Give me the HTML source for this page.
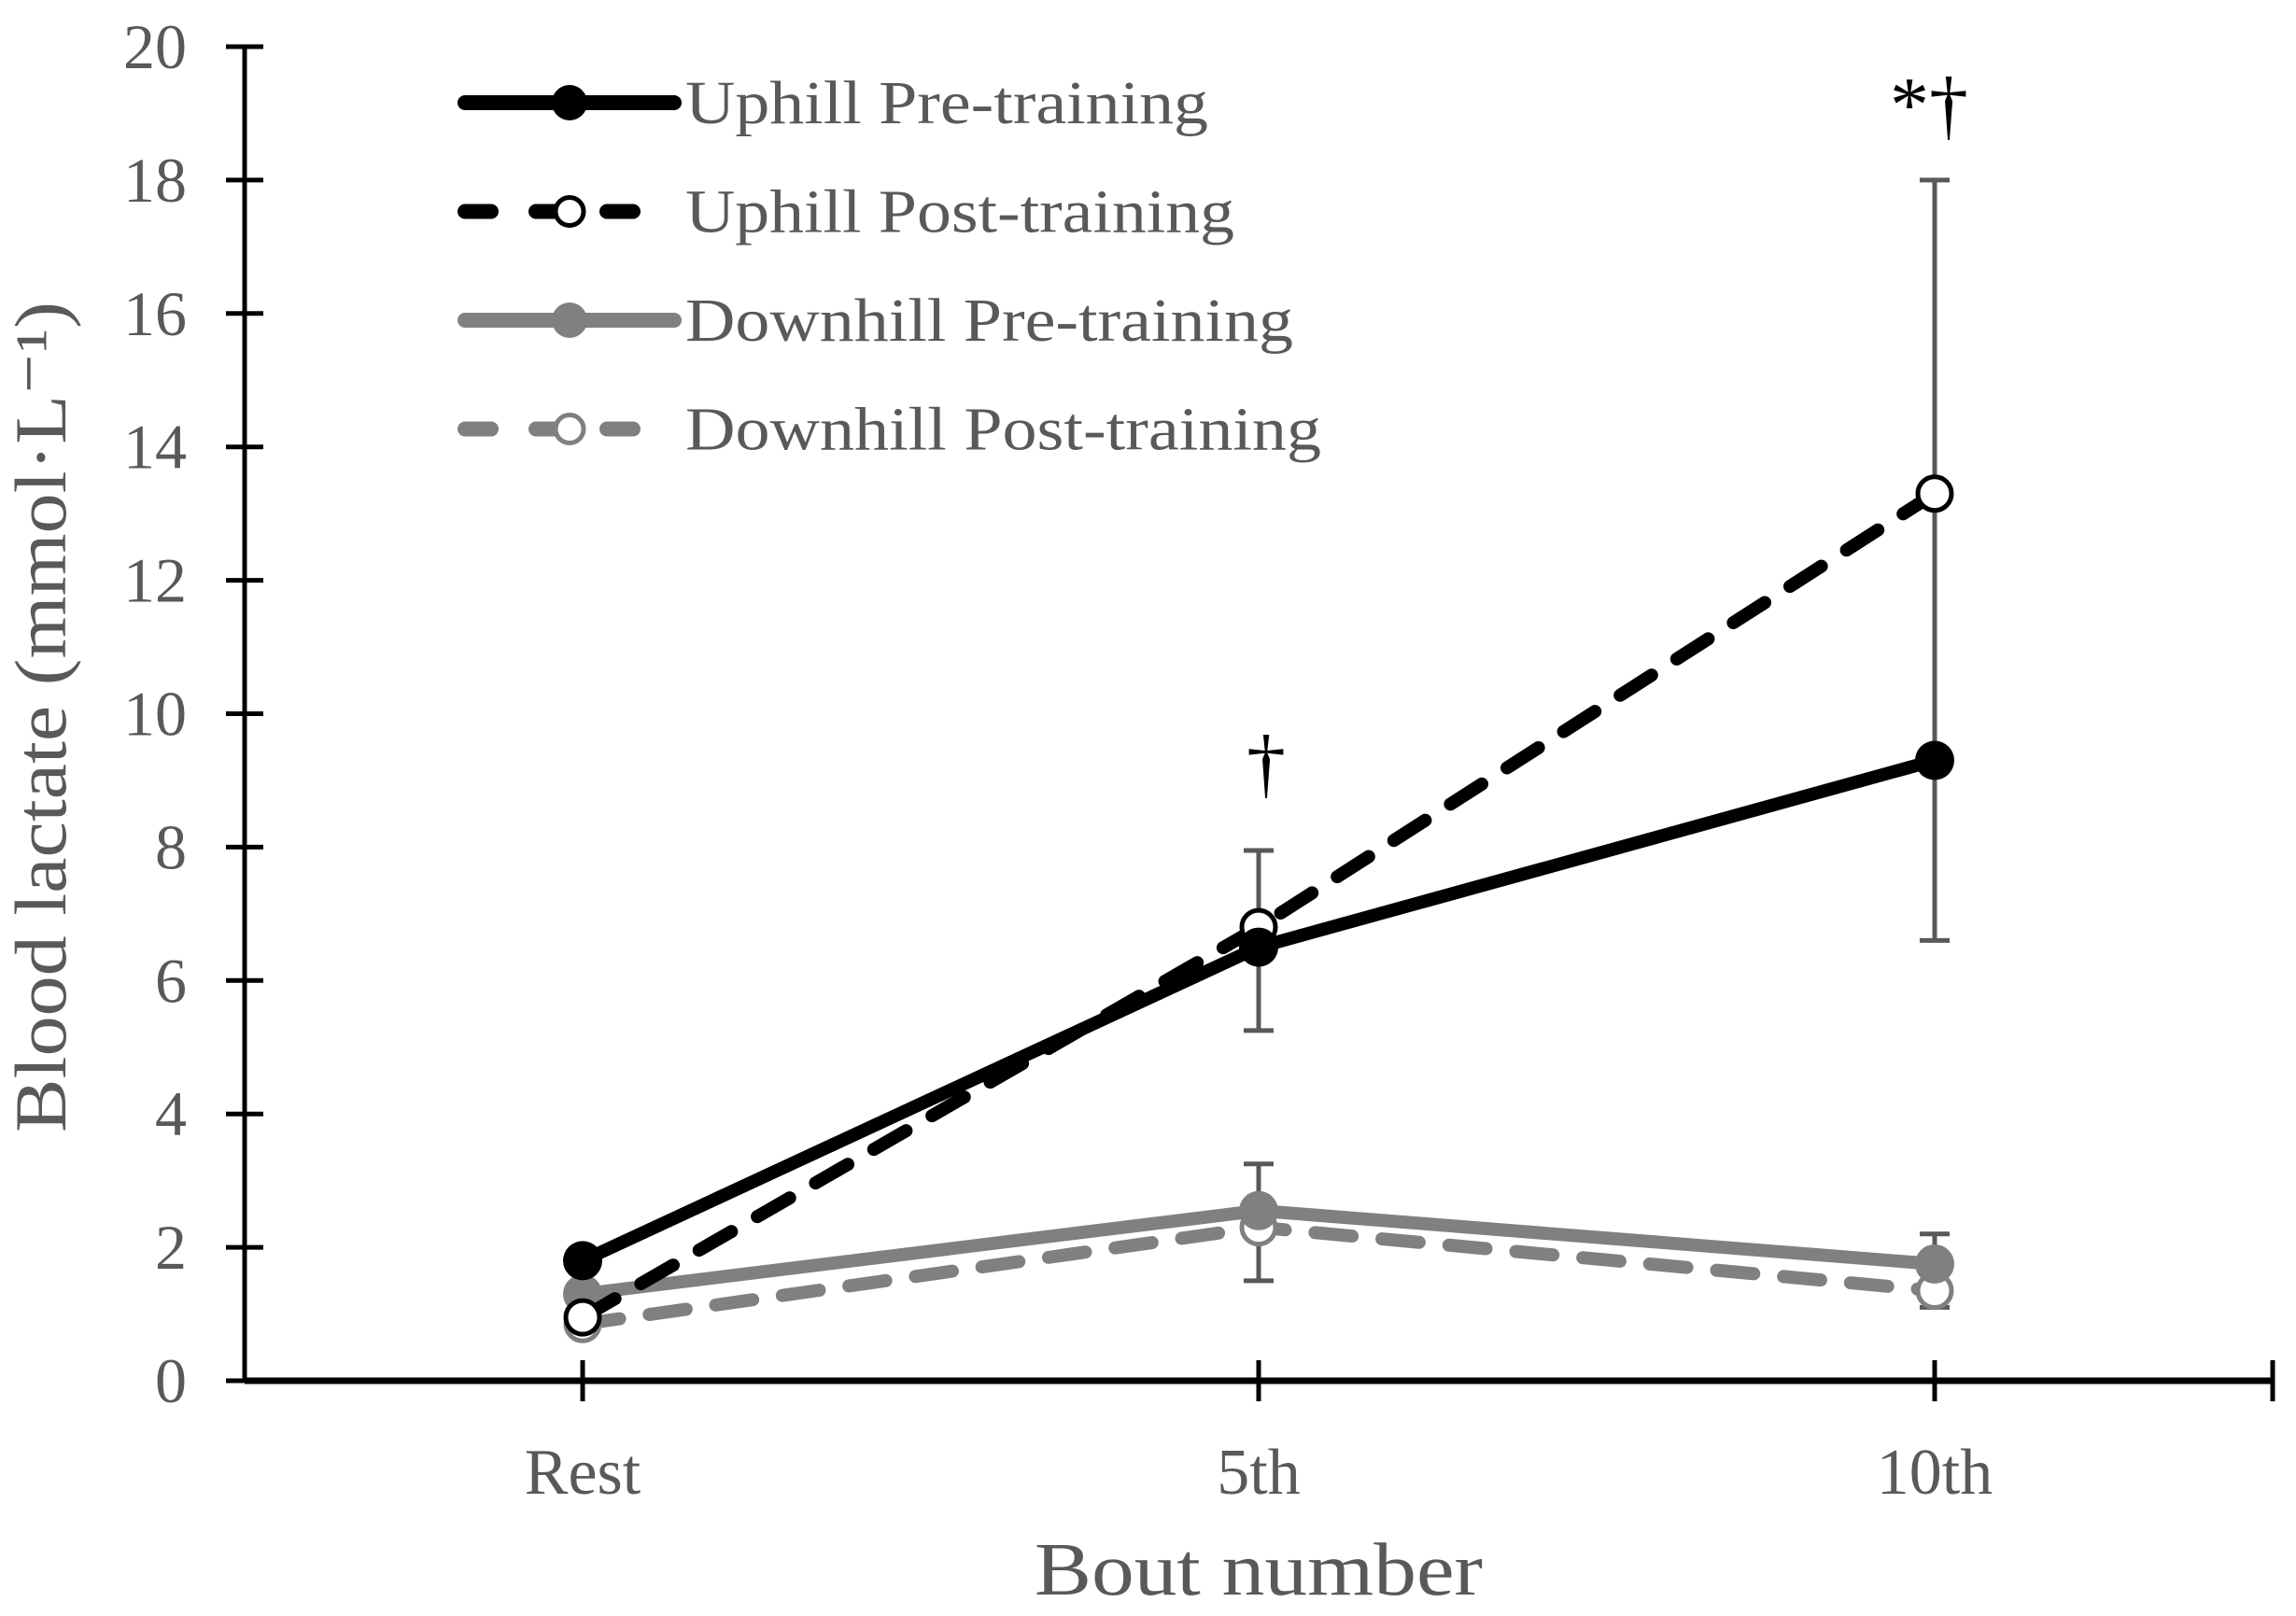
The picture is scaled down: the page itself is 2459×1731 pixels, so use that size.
<!DOCTYPE html>
<html><head><meta charset="utf-8"><style>
html,body{margin:0;padding:0;background:#fff;}
svg{display:block;font-family:"Liberation Serif",serif;}
</style></head><body>
<svg id="chart" width="2459" height="1731" viewBox="0 0 2459 1731">
<g id="axes"></g>
<g id="errs"></g>
<g id="series"></g>
<g id="legend"></g>
<text transform="translate(70,768) rotate(-90)" text-anchor="middle" font-size="78" fill="#595959" textLength="890" lengthAdjust="spacingAndGlyphs">Blood lactate (mmol·L⁻¹)</text>
<text x="1348" y="1708" text-anchor="middle" font-size="80" fill="#595959" textLength="480" lengthAdjust="spacingAndGlyphs">Bout number</text>
<text x="2066" y="140" text-anchor="middle" font-size="84" fill="#000">*†</text>
<text x="1356" y="845" text-anchor="middle" font-size="84" fill="#000">†</text>
</svg>
<script>
const categories=["Rest","5th","10th"];
const yTicks=[0,2,4,6,8,10,12,14,16,18,20];
const uphillPre=[1.8,6.5,9.3];
const uphillPost=[0.95,6.8,13.3];
const downhillPre=[1.3,2.55,1.75];
const downhillPost=[0.85,2.3,1.35];
const errLow=[null,5.25,6.6];
const errHigh=[null,7.95,18.0];
const errLow2=[null,1.5,1.1];
const errHigh2=[null,3.25,2.2];
const NS="http://www.w3.org/2000/svg";
const X0=262,X1=2434,Y0=1479,Y20=50;
const xs=i=>X0+(X1-X0)/3*(i+0.5);
const ys=v=>Y0-(Y0-Y20)*v/20;
function mk(p,t,a){const e=document.createElementNS(NS,t);for(const k in a)e.setAttribute(k,a[k]);p.appendChild(e);return e;}
const ax=document.getElementById('axes');
let e=mk(ax,'line',{x1:X0,y1:Y20,x2:X0,y2:Y0,stroke:'#000','stroke-width':5});

e=mk(ax,'line',{x1:X0,y1:Y0,x2:X1,y2:Y0,stroke:'#000','stroke-width':7});

yTicks.forEach(v=>{
 let t=mk(ax,'line',{x1:X0-20,x2:X0+20,y1:ys(v),y2:ys(v),stroke:'#000','stroke-width':5});
 
 let l=mk(ax,'text',{x:200,y:ys(v)+23,'text-anchor':'end','font-size':68,fill:'#595959'});l.textContent=v;
 
});
for(let i=0;i<=3;i++){
 const x=i<3?xs(i):X1;
 let t=mk(ax,'line',{x1:x,x2:x,y1:Y0-22,y2:Y0+22,stroke:'#000','stroke-width':5});
 
}
categories.forEach((c,i)=>{
 let l=mk(ax,'text',{x:xs(i),y:1600,'text-anchor':'middle','font-size':70,fill:'#595959'});l.textContent=c;
 
});
const eg=document.getElementById('errs');
function errbar(lo,hi){lo.forEach((v,i)=>{if(v==null)return;const x=xs(i);
 let g=mk(eg,'g',{stroke:'#595959','stroke-width':5});
 
 mk(g,'line',{x1:x,x2:x,y1:ys(v),y2:ys(hi[i])});
 mk(g,'line',{x1:x-16,x2:x+16,y1:ys(v),y2:ys(v)});
 mk(g,'line',{x1:x-16,x2:x+16,y1:ys(hi[i]),y2:ys(hi[i])});});}
errbar(errLow,errHigh);errbar(errLow2,errHigh2);
const sg=document.getElementById('series');
const defs=[
 {d:downhillPost,c:'#808080',dash:'40 32',fill:'#fff',name:'downhill-post-training'},
 {d:downhillPre,c:'#808080',dash:null,fill:'#808080',name:'downhill-pre-training'},
 {d:uphillPost,c:'#000',dash:'40 32',fill:'#fff',name:'uphill-post-training'},
 {d:uphillPre,c:'#000',dash:null,fill:'#000',name:'uphill-pre-training'}];
defs.forEach(s=>{
 let g=mk(sg,'g',{});
 let a={points:s.d.map((v,i)=>xs(i)+','+ys(v)).join(' '),fill:'none',stroke:s.c,'stroke-width':14,'stroke-linecap':'round'};
 if(s.dash)a['stroke-dasharray']=s.dash;
 let p=mk(g,'polyline',a);
 s.d.forEach((v,i)=>{let m=mk(g,'circle',{cx:xs(i),cy:ys(v),r:s.fill==='#fff'?18:21,fill:s.fill,stroke:s.c,'stroke-width':s.fill==='#fff'?5:0});
  });
});
const lg=document.getElementById('legend');
const labels=["Uphill Pre-training","Uphill Post-training","Downhill Pre-training","Downhill Post-training"];
const lens=[560,588,651,681];
const lrows=[defs[3],defs[2],defs[1],defs[0]];
lrows.forEach((s,i)=>{const y=110+i*116.5;
 let g=mk(lg,'g',{});
 let a={x1:498,x2:722,y1:y,y2:y,stroke:s.c,'stroke-width':16,'stroke-linecap':'round'};
 if(s.dash)a['stroke-dasharray']='28 48';
 mk(g,'line',a);
 mk(g,'circle',{cx:610,cy:y,r:s.fill==='#fff'?15:19,fill:s.fill,stroke:s.c,'stroke-width':s.fill==='#fff'?5:0});
 let t=mk(g,'text',{x:734,y:y+22,'font-size':66,fill:'#595959',textLength:lens[i],lengthAdjust:'spacingAndGlyphs'});t.textContent=labels[i];
});
</script>
</body></html>
